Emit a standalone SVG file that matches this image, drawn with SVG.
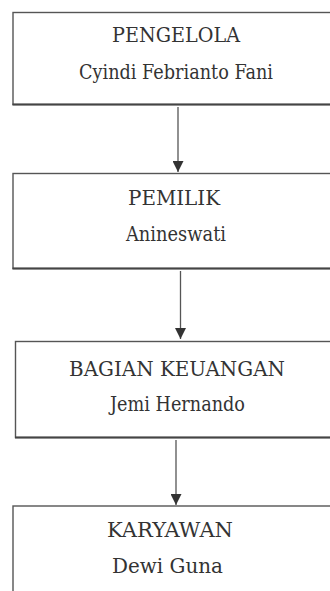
<svg xmlns="http://www.w3.org/2000/svg" width="330" height="591" viewBox="0 0 330 591">
<style>
.box{fill:#fff;stroke:#555;stroke-width:1.4}
.shadow{stroke:#444;stroke-width:2.2}
text{font-family:'DejaVu Serif','Liberation Serif',serif;font-size:20px;fill:#333;text-anchor:middle}
.conn{stroke:#555;stroke-width:1.3;fill:none}
</style>
<defs>
<marker id="arrow" markerWidth="11" markerHeight="11" refX="10" refY="5" orient="auto" markerUnits="userSpaceOnUse" viewBox="0 0 10 10">
<path d="M0,0 L10,5 L0,10 Z" fill="#333"/>
</marker>
</defs>
<rect width="330" height="591" fill="#fff"/>
<g id="connectors">
<line class="conn" x1="178" y1="107" x2="178" y2="172" marker-end="url(#arrow)"/>
<line class="conn" x1="180.5" y1="271" x2="180.5" y2="339" marker-end="url(#arrow)"/>
<line class="conn" x1="176" y1="440" x2="176" y2="505" marker-end="url(#arrow)"/>
</g>
<g id="pengelola">
<rect class="box" x="13" y="12.5" width="330" height="92"/>
<line class="shadow" x1="12.5" y1="104.5" x2="330" y2="104.5"/>
<text x="176" y="42" textLength="128" lengthAdjust="spacingAndGlyphs">PENGELOLA</text>
<text x="176" y="78.5" textLength="194" lengthAdjust="spacingAndGlyphs">Cyindi Febrianto Fani</text>
</g>
<g id="pemilik">
<rect class="box" x="13" y="173.5" width="330" height="95"/>
<line class="shadow" x1="12.5" y1="268.5" x2="330" y2="268.5"/>
<text x="174" y="204.5" textLength="92" lengthAdjust="spacingAndGlyphs">PEMILIK</text>
<text x="176" y="240.5" textLength="100" lengthAdjust="spacingAndGlyphs">Anineswati</text>
</g>
<g id="bagian-keuangan">
<rect class="box" x="15.5" y="341.5" width="330" height="96"/>
<line class="shadow" x1="15" y1="437.5" x2="330" y2="437.5"/>
<text x="177" y="376" textLength="216" lengthAdjust="spacingAndGlyphs">BAGIAN KEUANGAN</text>
<text x="177.5" y="411" textLength="135" lengthAdjust="spacingAndGlyphs">Jemi Hernando</text>
</g>
<g id="karyawan">
<rect class="box" x="13" y="506" width="330" height="100"/>
<text x="170" y="536.5" textLength="126" lengthAdjust="spacingAndGlyphs">KARYAWAN</text>
<text x="167.5" y="572.5" textLength="111" lengthAdjust="spacingAndGlyphs">Dewi Guna</text>
</g>
</svg>
